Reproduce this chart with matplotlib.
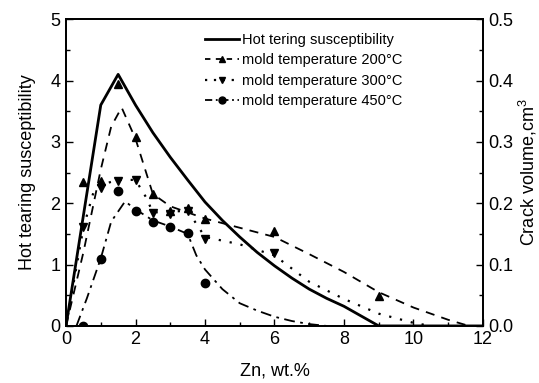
import matplotlib
matplotlib.use("Agg")
import matplotlib.pyplot as plt
from matplotlib.ticker import MultipleLocator

plt.rcParams['font.family'] = ['Liberation Sans', 'DejaVu Sans']
plt.rcParams['mathtext.fontset'] = 'custom'
plt.rcParams['mathtext.rm'] = 'Liberation Sans'

# hot tearing susceptibility (left axis)
hts_x = [0, 1.0, 1.5, 2.0, 2.5, 3.0, 3.5, 4.0, 4.5, 5.0, 5.5, 6.0, 6.5, 7.0, 7.5, 8.0, 8.5, 9.0, 12]
hts_y = [0, 3.6, 4.1, 3.6, 3.15, 2.75, 2.38, 2.02, 1.72, 1.45, 1.2, 0.98, 0.78, 0.6, 0.45, 0.32, 0.16, 0.0, 0.0]

# crack volume, cm3 (right axis) - measured points
zn_pts = [0.5, 1.0, 1.5, 2.0, 2.5, 3.0, 3.5, 4.0, 6.0, 9.0]
cv200 = [0.235, 0.236, 0.395, 0.308, 0.215, 0.188, 0.192, 0.174, 0.155, 0.049]
zn300 = [0.5, 1.0, 1.5, 2.0, 2.5, 3.0, 3.5, 4.0, 6.0]
cv300 = [0.162, 0.225, 0.237, 0.238, 0.184, 0.182, 0.188, 0.141, 0.119]
zn450 = [0.5, 1.0, 1.5, 2.0, 2.5, 3.0, 3.5, 4.0]
cv450 = [0.0, 0.109, 0.22, 0.188, 0.169, 0.162, 0.151, 0.070]

# fitted curves
fit200_x = [0, 0.5, 1.0, 1.3, 1.6, 2.0, 2.5, 3.0, 3.5, 4.0, 5.0, 6.0, 7.0, 8.0, 9.0, 10.0, 11.0, 11.6]
fit200_y = [0, 0.12, 0.255, 0.325, 0.356, 0.305, 0.215, 0.195, 0.185, 0.175, 0.16, 0.145, 0.117, 0.088, 0.055, 0.03, 0.01, 0]
fit300_x = [0, 0.5, 0.8, 1.0, 1.5, 2.0, 2.3, 2.5, 3.0, 3.5, 4.0, 5.0, 6.0, 7.0, 8.0, 9.0, 10.0, 10.5]
fit300_y = [0, 0.16, 0.22, 0.23, 0.238, 0.238, 0.21, 0.185, 0.186, 0.188, 0.145, 0.133, 0.115, 0.072, 0.044, 0.02, 0.005, 0]
fit450_x = [0.3, 0.6, 1.0, 1.3, 1.7, 2.0, 2.5, 3.0, 3.5, 3.75, 4.0, 4.5, 5.0, 5.5, 6.0, 6.5, 7.0, 7.5]
fit450_y = [0, 0.045, 0.11, 0.17, 0.203, 0.19, 0.172, 0.162, 0.15, 0.115, 0.092, 0.06, 0.037, 0.025, 0.015, 0.008, 0.003, 0]

fig = plt.figure(figsize=(5.39, 3.83), dpi=100)
ax = fig.add_axes([0.1225, 0.149, 0.7735, 0.801])
ax2 = ax.twinx()

h1, = ax.plot(hts_x, hts_y, 'k-', lw=2.0, label='Hot tering susceptibility')

ax2.plot(fit200_x, fit200_y, color='k', ls=(0, (5, 4)), lw=1.3)
ax2.plot(fit300_x, fit300_y, color='k', ls=(0, (1, 4)), lw=1.6)
ax2.plot(fit450_x, fit450_y, color='k', ls=(0, (6, 3, 1.5, 3)), lw=1.3)
ax2.plot(zn_pts, cv200, 'k^', ms=6, ls='none')
ax2.plot(zn300, cv300, 'kv', ms=6, ls='none')
ax2.plot(zn450, cv450, 'ko', ms=6, ls='none')

# legend handles
h2, = ax2.plot([], [], color='k', ls=(0, (3, 3)), lw=1.3, marker='^', ms=5,
               label='mold temperature 200°C')
h3, = ax2.plot([], [], color='k', ls=(0, (1, 3)), lw=1.6, marker='v', ms=5,
               label='mold temperature 300°C')
h4, = ax2.plot([], [], color='k', ls=(0, (4, 2, 1, 2)), lw=1.3, marker='o', ms=5,
               label='mold temperature 450°C')
ax2.legend(handles=[h1, h2, h3, h4], loc='upper left', bbox_to_anchor=(0.32, 0.975),
           frameon=False, fontsize=10.5, handlelength=2.3, handletextpad=0.25,
           labelspacing=0.45, borderaxespad=0)

ax.set_xlim(0, 12)
ax.set_ylim(0, 5)
ax2.set_ylim(0, 0.5)
ax.xaxis.set_major_locator(MultipleLocator(2))
ax.xaxis.set_minor_locator(MultipleLocator(1))
ax.yaxis.set_major_locator(MultipleLocator(1))
ax.yaxis.set_minor_locator(MultipleLocator(0.5))
ax2.yaxis.set_major_locator(MultipleLocator(0.1))
ax2.yaxis.set_minor_locator(MultipleLocator(0.05))

for a in (ax, ax2):
    a.tick_params(which='both', direction='in', labelsize=13, width=1.0)
    a.tick_params(which='major', length=5, pad=4)
    a.tick_params(which='minor', length=3)
    for s in a.spines.values():
        s.set_linewidth(1.3)
ax.tick_params(top=False, which='both')

ax.set_xlabel('Zn, wt.%', fontsize=13, labelpad=10)
ax.set_ylabel('Hot tearing susceptibility', fontsize=13, labelpad=10)
ax2.set_ylabel('Crack volume,cm$^3$', fontsize=13, labelpad=2)

fig.savefig('out.png', dpi=100)
